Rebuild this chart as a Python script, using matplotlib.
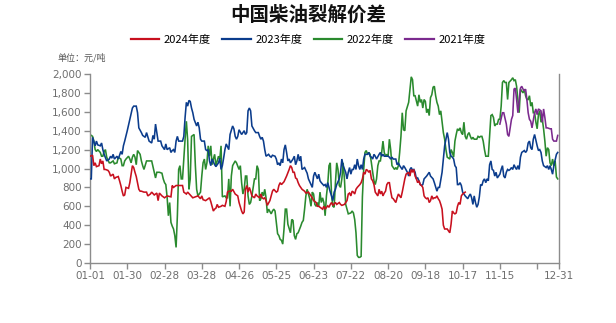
import datetime as dt
import matplotlib
matplotlib.use("Agg")
import matplotlib.pyplot as plt
from matplotlib.lines import Line2D
from matplotlib.ticker import FuncFormatter

plt.rcParams['font.family'] = ['Noto Sans CJK SC', 'DejaVu Sans']

# Day offsets from 01-01 (leap-year calendar) and spread values, 元/吨
days_2024 = [0, 2, 3, 4, 5, 7, 8, 9, 10, 11, 12, 14, 15, 16, 18, 19, 20, 22, 23, 24, 25, 26, 27, 28, 30, 31, 33, 34,
             35, 36, 37, 38, 39, 40, 42, 44, 45, 47, 48, 50, 52, 53, 54, 56, 58, 60, 63, 64, 65, 67, 68, 71, 72, 73,
             75, 76, 78, 80, 82, 84, 86, 87, 88, 90, 91, 93, 94, 95, 96, 97, 98, 99, 100, 102, 103, 105, 106, 107,
             108, 110, 111, 113, 115, 116, 118, 119, 120, 121, 122, 123, 124, 125, 126, 128, 129, 130, 132, 133, 134,
             135, 136, 137, 138, 140, 141, 142, 143, 145, 146, 147, 148, 149, 151, 152, 153, 155, 156, 157, 158, 159,
             160, 161, 162, 163, 164, 165, 167, 168, 170, 171, 172, 173, 174, 176, 177, 178, 179, 181, 182, 183, 185,
             186, 187, 188, 189, 191, 192, 194, 195, 196, 198, 199, 200, 201, 202, 203, 204, 205, 206, 207, 208, 210,
             211, 212, 213, 214, 215, 216, 217, 218, 219, 220, 221, 222, 224, 225, 226, 227, 228, 229, 230, 231, 232,
             233, 234, 235, 236, 238, 239, 240, 241, 242, 243, 245, 246, 248, 249, 250, 251, 252, 253, 254, 255, 256,
             257, 258, 259, 260, 261, 262, 263, 264, 265, 266, 267, 268, 269, 270, 271, 272, 273, 274, 275, 276, 278,
             279, 280, 281, 282, 283, 284, 285, 286, 287, 288, 289, 290, 292]
vals_2024 = [1130, 1140, 1030, 1060, 1020, 1030, 1100, 1050, 1080, 990, 990, 980, 960, 920, 940, 890, 905, 915, 870,
             820, 760, 710, 720, 800, 790, 850, 1030, 1010, 960, 915, 850, 780, 760, 760, 750, 750, 710, 730, 750, 720,
             740, 660, 740, 710, 690, 710, 700, 820, 800, 820, 820, 820, 820, 750, 730, 750, 720, 690, 700, 710, 680,
             710, 670, 660, 670, 690, 650, 600, 550, 570, 580, 620, 590, 600, 610, 600, 650, 750, 760, 760, 780, 730,
             710, 640, 550, 520, 540, 780, 820, 750, 800, 760, 710, 690, 730, 710, 690, 730, 690, 680, 690, 660, 610,
             660, 710, 760, 780, 750, 760, 820, 850, 830, 860, 890, 920, 990, 1030, 1010, 960, 960, 900, 890, 850, 820,
             800, 780, 760, 740, 750, 730, 710, 690, 660, 640, 600, 600, 590, 570, 600, 570, 605, 590, 620, 640, 610,
             640, 620, 640, 620, 610, 620, 640, 660, 730, 740, 710, 760, 750, 730, 780, 800, 830, 850, 890, 960, 940,
             990, 980, 960, 980, 890, 870, 830, 750, 710, 780, 730, 760, 710, 740, 760, 830, 850, 850, 760, 690, 680,
             640, 690, 730, 710, 690, 750, 890, 940, 960, 920, 990, 960, 990, 920, 890, 850, 870, 830, 820, 800, 710,
             690, 680, 690, 640, 660, 710, 680, 690, 690, 710, 680, 660, 620, 570, 400, 360, 360, 340, 320, 410, 550,
             530, 520, 530, 600, 640, 620, 710, 730, 750]

days_2023 = [0, 1, 2, 4, 5, 6, 8, 9, 10, 11, 13, 15, 16, 17, 18, 19, 21, 22, 24, 25, 26, 27, 29, 31, 33, 34, 36, 37,
             38, 40, 41, 43, 44, 46, 48, 49, 50, 51, 52, 53, 55, 56, 58, 59, 60, 62, 63, 64, 65, 66, 67, 68, 69, 71,
             72, 73, 74, 75, 76, 77, 78, 79, 80, 81, 83, 84, 85, 86, 87, 89, 90, 91, 92, 93, 94, 95, 97, 98, 100, 101,
             102, 103, 104, 105, 106, 108, 109, 111, 112, 113, 114, 115, 116, 118, 120, 121, 122, 123, 124, 125, 126,
             128, 129, 131, 132, 133, 134, 135, 136, 137, 139, 140, 141, 142, 144, 145, 146, 147, 148, 149, 150, 151,
             152, 153, 154, 155, 156, 157, 158, 159, 160, 161, 162, 163, 164, 165, 167, 169, 170, 172, 173, 174, 175,
             177, 178, 179, 180, 182, 183, 184, 185, 187, 188, 189, 190, 191, 192, 194, 195, 196, 197, 199, 200, 201,
             202, 203, 204, 205, 206, 207, 208, 209, 210, 211, 212, 213, 214, 216, 217, 218, 219, 220, 221, 222, 223,
             225, 226, 227, 228, 229, 230, 232, 233, 234, 235, 236, 238, 239, 240, 241, 242, 243, 244, 245, 247, 248,
             249, 250, 251, 252, 253, 254, 255, 256, 257, 258, 259, 260, 262, 264, 265, 267, 268, 270, 271, 272, 274,
             275, 276, 278, 279, 280, 281, 282, 283, 284, 285, 286, 287, 288, 289, 290, 291, 292, 294, 295, 296, 297,
             298, 299, 300, 301, 302, 303, 304, 305, 306, 307, 308, 309, 310, 311, 312, 313, 314, 315, 316, 317, 319,
             320, 321, 322, 323, 324, 325, 326, 327, 328, 329, 330, 331, 332, 333, 334, 335, 336, 338, 339, 340, 341,
             342, 343, 344, 345, 346, 348, 349, 350, 351, 352, 353, 355, 356, 357, 358, 359, 360, 361, 363, 364]
vals_2023 = [890, 890, 1330, 1240, 1290, 1250, 1240, 1270, 1200, 1150, 1080, 1100, 1130, 1110, 1150, 1100, 1130,
             1100, 1180, 1150, 1240, 1290, 1400, 1520, 1640, 1660, 1660, 1590, 1430, 1380, 1350, 1330, 1380, 1290,
             1270, 1350, 1310, 1470, 1380, 1290, 1290, 1240, 1200, 1260, 1200, 1220, 1170, 1190, 1200, 1170, 1290,
             1340, 1290, 1290, 1290, 1340, 1540, 1700, 1660, 1720, 1710, 1640, 1590, 1520, 1450, 1490, 1430, 1310,
             1290, 1290, 1200, 1190, 1200, 1080, 1030, 1100, 1040, 1020, 1060, 1110, 990, 1030, 1110, 1200, 1260,
             1200, 1360, 1450, 1420, 1340, 1310, 1340, 1410, 1360, 1400, 1360, 1380, 1610, 1640, 1610, 1450, 1400,
             1380, 1380, 1340, 1310, 1330, 1290, 1200, 1130, 1150, 1130, 1120, 1140, 1130, 1100, 1040, 1060, 1030,
             1100, 1060, 1200, 1250, 1170, 1080, 1100, 1060, 1080, 1100, 1130, 1040, 1080, 1150, 1080, 1130, 990,
             1010, 950, 890, 830, 800, 920, 960, 890, 940, 870, 850, 820, 830, 800, 850, 750, 710, 660, 750, 780, 830,
             890, 960, 1100, 1030, 960, 890, 960, 1010, 940, 990, 990, 1040, 990, 1100, 1030, 990, 1040, 990, 1100,
             1150, 1150, 1170, 1130, 1120, 1100, 1150, 1130, 1100, 1150, 1170, 1130, 1150, 1130, 1130, 1130, 1120,
             1100, 1120, 1100, 1100, 1040, 1060, 1030, 1010, 990, 1030, 1010, 960, 920, 990, 1010, 980, 990, 960, 890,
             900, 870, 830, 820, 830, 890, 920, 960, 920, 890, 850, 760, 800, 800, 960, 1100, 1240, 1380, 1310, 1170,
             1130, 1120, 1100, 1030, 1010, 830, 830, 850, 820, 750, 730, 710, 680, 710, 730, 690, 620, 710, 640, 590,
             620, 700, 830, 820, 870, 890, 850, 890, 870, 1040, 1080, 990, 980, 920, 960, 900, 940, 990, 1030, 920,
             900, 960, 990, 980, 990, 1010, 990, 1040, 1010, 990, 1030, 990, 1120, 1170, 1190, 1170, 1190, 1270, 1290,
             1220, 1200, 1310, 1360, 1240, 1190, 1200, 1170, 1080, 1030, 1010, 1030, 990, 1030, 990, 940, 1030, 1150,
             1170]

days_2022 = [0, 2, 3, 4, 5, 6, 8, 9, 10, 11, 12, 13, 15, 16, 18, 19, 21, 22, 24, 25, 26, 27, 28, 30, 31, 32, 33, 34,
             35, 36, 37, 39, 40, 41, 42, 44, 45, 47, 48, 50, 51, 52, 54, 56, 57, 58, 59, 60, 61, 62, 63, 64, 65, 66,
             67, 68, 69, 70, 71, 72, 73, 74, 75, 76, 77, 78, 79, 81, 82, 83, 84, 86, 87, 88, 89, 90, 91, 92, 93, 94,
             95, 96, 97, 98, 100, 101, 102, 103, 105, 106, 107, 108, 109, 110, 111, 113, 114, 116, 117, 118, 119, 120,
             121, 122, 123, 124, 125, 126, 128, 129, 130, 131, 132, 133, 134, 135, 136, 137, 138, 139, 141, 142, 143,
             144, 146, 147, 148, 149, 150, 151, 152, 153, 154, 156, 157, 158, 159, 160, 161, 162, 164, 165, 166, 167,
             168, 169, 170, 171, 172, 173, 174, 175, 176, 177, 178, 179, 180, 181, 182, 183, 184, 185, 186, 187, 188,
             189, 190, 191, 192, 193, 194, 195, 196, 197, 198, 199, 200, 201, 203, 204, 205, 206, 207, 208, 209, 210,
             211, 212, 213, 214, 215, 216, 217, 218, 219, 220, 221, 222, 223, 224, 225, 226, 227, 228, 229, 230, 231,
             232, 233, 234, 235, 237, 238, 239, 240, 241, 242, 243, 244, 245, 246, 248, 249, 250, 251, 252, 253, 255,
             256, 257, 258, 259, 260, 261, 262, 263, 264, 265, 266, 267, 268, 269, 270, 271, 272, 273, 274, 275, 276,
             277, 278, 280, 281, 282, 283, 284, 285, 286, 287, 288, 289, 290, 291, 292, 293, 294, 295, 296, 297, 298,
             299, 301, 302, 303, 304, 305, 306, 307, 308, 309, 310, 311, 312, 313, 314, 315, 316, 317, 318, 319, 320,
             321, 322, 323, 324, 325, 326, 328, 329, 330, 331, 332, 333, 334, 335, 336, 337, 338, 339, 340, 341, 342,
             343, 344, 345, 346, 347, 348, 349, 350, 351, 352, 353, 354, 355, 356, 357, 358, 359, 360, 361, 362, 363,
             364]
vals_2022 = [1360, 1340, 1290, 1200, 1180, 1200, 1170, 1130, 1130, 1180, 1200, 1120, 1060, 1060, 1080, 1050, 1060,
             1120, 1100, 1030, 1030, 1080, 1100, 1130, 1100, 1060, 1120, 1150, 1120, 1040, 1190, 1150, 1080, 1030,
             990, 1080, 1080, 1080, 1080, 960, 900, 960, 960, 950, 890, 850, 830, 700, 500, 640, 430, 390, 360, 290,
             165, 500, 990, 1030, 890, 890, 1100, 1310, 1500, 1300, 780, 890, 1340, 1360, 1030, 780, 710, 750, 920,
             1060, 1100, 990, 1060, 1240, 1130, 1240, 1040, 1100, 1150, 1030, 1130, 1100, 1240, 700, 710, 690, 690,
             890, 600, 920, 1030, 1080, 1060, 990, 1030, 850, 730, 780, 920, 920, 710, 620, 640, 710, 890, 890, 1030,
             990, 660, 680, 750, 710, 780, 690, 530, 570, 520, 550, 570, 550, 310, 290, 250, 240, 200, 360, 570, 570,
             410, 320, 460, 450, 290, 250, 310, 320, 390, 430, 450, 570, 710, 780, 730, 680, 600, 750, 730, 620, 600,
             640, 600, 750, 640, 690, 640, 500, 710, 830, 1030, 1060, 710, 600, 590, 850, 1060, 990, 820, 800, 890,
             1060, 890, 620, 570, 520, 530, 550, 530, 460, 320, 80, 60, 60, 70, 700, 990, 1170, 1190, 1150, 1170, 1150,
             1060, 960, 870, 830, 890, 1030, 1080, 1080, 1170, 1290, 1170, 1130, 1150, 1130, 1310, 1200, 1030, 990,
             1010, 990, 1030, 1170, 1340, 1590, 1410, 1400, 1610, 1700, 1840, 1970, 1940, 1770, 1770, 1660, 1780,
             1700, 1730, 1640, 1730, 1710, 1590, 1630, 1560, 1750, 1780, 1860, 1870, 1770, 1700, 1660, 1570, 1610,
             1490, 1380, 1310, 1200, 1120, 1100, 1200, 1170, 1120, 1290, 1360, 1420, 1400, 1430, 1380, 1360, 1490,
             1340, 1310, 1360, 1380, 1340, 1310, 1330, 1310, 1310, 1340, 1330, 1340, 1340, 1290, 1200, 1130, 1130,
             1130, 1340, 1560, 1570, 1540, 1450, 1470, 1470, 1520, 1520, 1660, 1910, 1930, 1910, 1910, 1730, 1910,
             1940, 1960, 1930, 1940, 1870, 1730, 1590, 1840, 1820, 1800, 1840, 1770, 1730, 1730, 1770, 1660, 1700,
             1590, 1590, 1490, 1420, 1570, 1610, 1490, 1520, 1420, 1290, 1130, 1220, 1200, 1060, 1030, 1100, 1030,
             1080, 910, 890]

days_2021 = [319, 321, 322, 324, 325, 326, 327, 328, 329, 330, 331, 332, 333, 334, 335, 336, 337, 338, 339, 340, 341,
             342, 343, 344, 346, 347, 348, 349, 351, 352, 353, 354, 355, 356, 358, 359, 360, 361, 363, 364]
vals_2021 = [1470, 1590, 1590, 1470, 1360, 1340, 1430, 1520, 1560, 1840, 1850, 1730, 1590, 1710, 1850, 1870, 1840,
             1820, 1840, 1730, 1590, 1520, 1500, 1430, 1590, 1630, 1570, 1630, 1610, 1490, 1630, 1540, 1430, 1430,
             1420, 1420, 1310, 1290, 1290, 1350]

series_names = ['2024年度', '2023年度', '2022年度', '2021年度']
series_colors = ['#C8101E', '#0B3C8C', '#2A8A2E', '#7B2A8E']

tick_labels = ['01-01', '01-30', '02-28', '03-28', '04-26', '05-25', '06-23',
               '07-22', '08-20', '09-18', '10-17', '11-15', '12-14', '12-31']
shown_labels = ['01-01', '01-30', '02-28', '03-28', '04-26', '05-25', '06-23',
                '07-22', '08-20', '09-18', '10-17', '11-15', '', '12-31']

start = dt.date(2024, 1, 1)
tick_pos = [(dt.date(2024, int(t[:2]), int(t[3:])) - start).days for t in tick_labels]

W, H = 616, 323
fig = plt.figure(figsize=(W / 100, H / 100), dpi=100)
ax = fig.add_axes([90 / W, 1 - 263 / H, 469 / W, 189 / H])

data = [(days_2024, vals_2024), (days_2023, vals_2023), (days_2022, vals_2022), (days_2021, vals_2021)]
zorders = [5, 3, 2, 4]
for (d, v), c, z in zip(data, series_colors, zorders):
    ax.plot(d, v, color=c, lw=1.15, zorder=z, solid_joinstyle='miter')

ax.set_xlim(0, 365)
ax.set_ylim(0, 2000)
ax.set_yticks(range(0, 2001, 200))
ax.yaxis.set_major_formatter(FuncFormatter(lambda y, _: f'{int(y):,}'))
ax.set_xticks(tick_pos)
ax.set_xticklabels(shown_labels)

axis_col = '#8C8C8C'
text_col = '#6E6E6E'
for s in ['left', 'bottom', 'right']:
    ax.spines[s].set_color(axis_col)
    ax.spines[s].set_linewidth(1.0)
ax.spines['top'].set_visible(False)
ax.tick_params(axis='both', colors=axis_col, labelcolor=text_col, labelsize=8, length=4, width=1.0, pad=2)
for lab in ax.get_xticklabels() + ax.get_yticklabels():
    lab.set_family(['DejaVu Sans'])
    lab.set_fontsize(7.5)

fig.text(0.5, 1 - 15 / H, '中国柴油裂解价差', ha='center', va='center', fontsize=14,
         fontweight='bold', color='#111111')

handles = [Line2D([], [], color=c, lw=1.6) for c in series_colors]
fig.legend(handles, series_names, loc='center', bbox_to_anchor=(0.5, 1 - 40 / H), ncol=4,
           frameon=False, fontsize=8, handlelength=2.6, handletextpad=0.4, columnspacing=1.0)

fig.text(58 / W, 1 - 58 / H, '单位：元/吨', ha='left', va='center', fontsize=6.5, color='#555555')

fig.savefig('out.png', dpi=100)
